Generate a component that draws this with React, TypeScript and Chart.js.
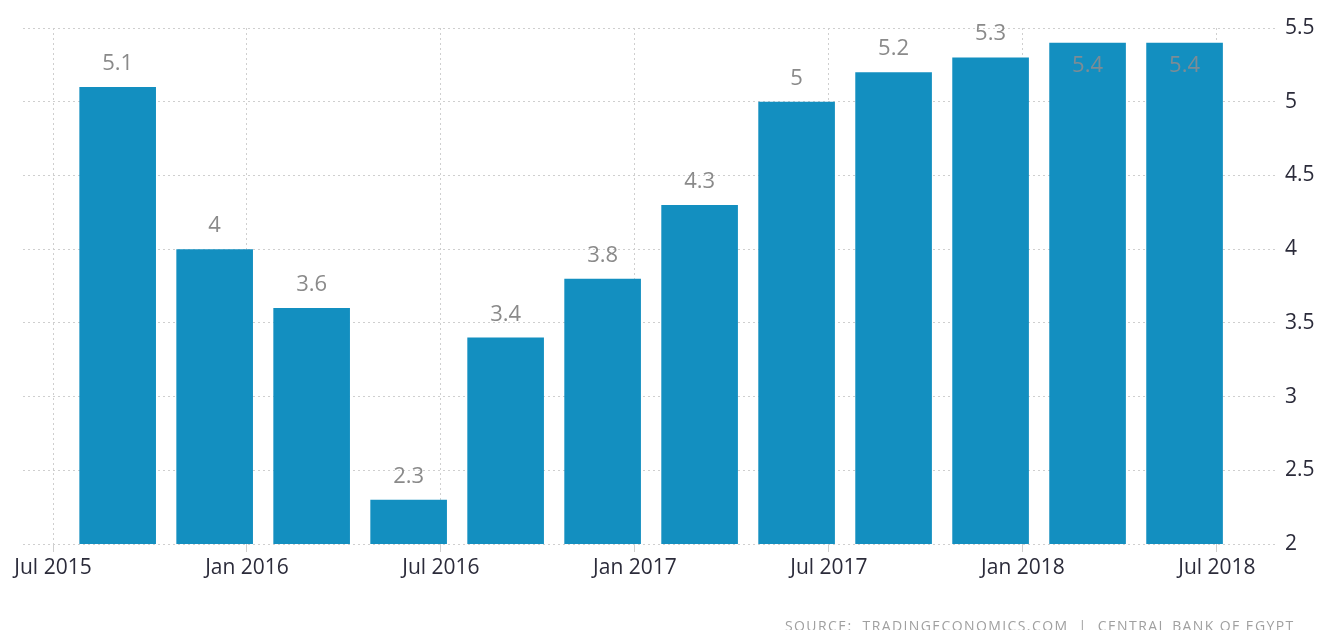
import React, { useEffect, useRef } from "react";
import { Chart, registerables } from "chart.js";

Chart.register(...registerables);

// Quarterly values (months counted from Jul 2015)
const barMonths = [2, 5, 8, 11, 14, 17, 20, 23, 26, 29, 32, 35];
const values = [5.1, 4, 3.6, 2.3, 3.4, 3.8, 4.3, 5, 5.2, 5.3, 5.4, 5.4];
const tickMonths = [0, 6, 12, 18, 24, 30, 36];
const tickLabels = ["Jul 2015", "Jan 2016", "Jul 2016", "Jan 2017", "Jul 2017", "Jan 2018", "Jul 2018"];
const yTicks = [2, 2.5, 3, 3.5, 4, 4.5, 5, 5.5];

const FONT = "'Open Sans', 'DejaVu Sans', sans-serif";

const labelPlugin = {
  id: "valueLabels",
  afterDatasetsDraw(chart: any) {
    const ctx = chart.ctx;
    const meta = chart.getDatasetMeta(0);
    ctx.save();
    ctx.font = `22px ${FONT}`;
    ctx.textAlign = "center";
    ctx.textBaseline = "alphabetic";
    meta.data.forEach((bar: any, i: number) => {
      const txt = String(values[i]);
      const above = bar.y - 17;
      if (above - 16 < 15) {
        ctx.fillStyle = "#7d8c95";
        ctx.fillText(txt, bar.x, bar.y + 29);
      } else {
        ctx.fillStyle = "#8a8a8a";
        ctx.fillText(txt, bar.x, above);
      }
    });
    ctx.restore();
  },
};

export default function App() {
  const canvasRef = useRef<HTMLCanvasElement | null>(null);

  useEffect(() => {
    const canvas = canvasRef.current;
    if (!canvas) return;
    const chart = new Chart(canvas, {
      type: "bar",
      data: {
        datasets: [
          {
            data: barMonths.map((m, i) => ({ x: m, y: values[i] })),
            backgroundColor: "#138fc0",
            borderWidth: 0,
            barPercentage: 0.79,
            categoryPercentage: 1,
          },
        ],
      },
      options: {
        animation: false,
        responsive: true,
        maintainAspectRatio: false,
        layout: { padding: { left: 23, top: 28, right: 0, bottom: 0 } },
        plugins: {
          legend: { display: false },
          tooltip: { enabled: false },
        },
        scales: {
          x: {
            type: "linear",
            offset: false,
            min: -0.928,
            max: 37.89,
            afterBuildTicks: (axis: any) => {
              axis.ticks = tickMonths.map((v) => ({ value: v }));
            },
            afterFit: (axis: any) => {
              axis.height = 86;
            },
            border: { display: false, dash: [2, 3] },
            grid: {
              offset: false,
              color: "#cfcfcf",
              lineWidth: 1,
              drawTicks: true,
              tickLength: 8,
            },
            ticks: {
              padding: 3,
              autoSkip: false,
              maxRotation: 0,
              color: "#2b2b3a",
              font: { family: FONT, size: 21 },
              callback: (v: any) => {
                const idx = tickMonths.indexOf(Number(v));
                return idx >= 0 ? tickLabels[idx] : "";
              },
            },
          },
          y: {
            position: "right",
            min: 2,
            max: 5.5,
            afterBuildTicks: (axis: any) => {
              axis.ticks = yTicks.map((v) => ({ value: v }));
            },
            afterFit: (axis: any) => {
              axis.width = 43;
            },
            border: { display: false, dash: [2, 3] },
            grid: {
              color: "#cfcfcf",
              lineWidth: 1,
              drawTicks: false,
            },
            ticks: {
              padding: 7,
              color: "#2b2b3a",
              font: { family: FONT, size: 21 },
              callback: (v: any) => String(v),
            },
          },
        },
      },
      plugins: [labelPlugin],
    });
    return () => chart.destroy();
  }, []);

  return (
    <div
      style={{
        position: "absolute",
        left: 0,
        top: 0,
        width: 1321,
        height: 630,
        overflow: "hidden",
        background: "#ffffff",
      }}
    >
      <canvas ref={canvasRef} />
      <div
        style={{
          position: "absolute",
          left: 785,
          top: 616,
          fontFamily: FONT,
          fontSize: 14,
          letterSpacing: "1.4px",
          color: "#a0a0a0",
          whiteSpace: "pre",
          lineHeight: "20px",
        }}
      >
        {"SOURCE:  TRADINGECONOMICS.COM  |  CENTRAL BANK OF EGYPT"}
      </div>
    </div>
  );
}
